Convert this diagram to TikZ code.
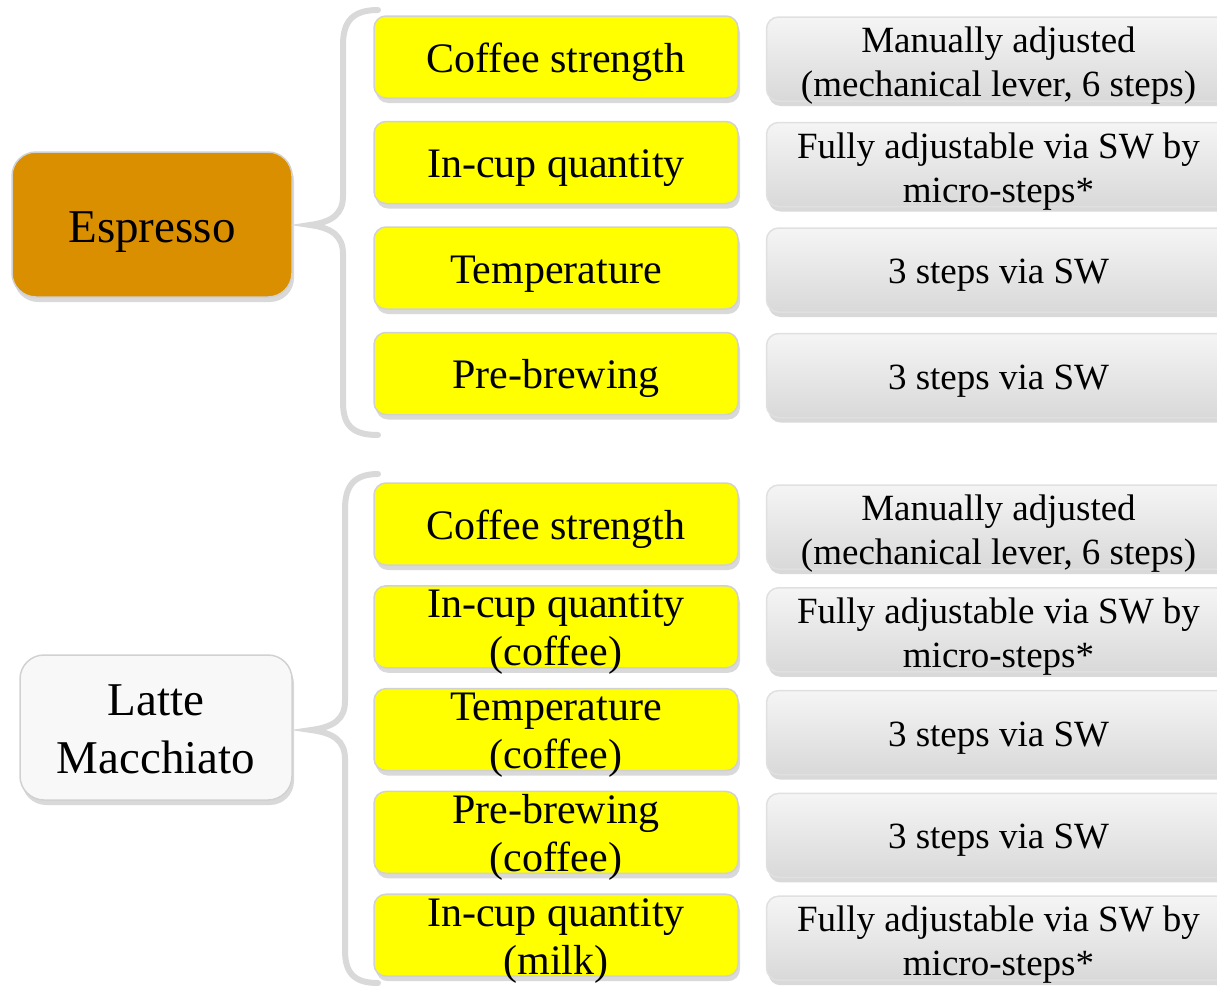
\documentclass[tikz,border=0pt]{standalone}
\usepackage{fontspec}
\setmainfont{Liberation Serif}
\usetikzlibrary{positioning, shadows}
\definecolor{espresso}{RGB}{217,143,0}
\definecolor{latte}{RGB}{248,248,248}
\definecolor{paramyellow}{RGB}{255,255,0}
\definecolor{bracegray}{RGB}{217,217,217}
\newcommand{\twolines}[3]{\raisebox{#1}{\begin{tabular}[t]{@{}c@{}}#2\\#3\end{tabular}}}
\tikzstyle{drink} = [rectangle, rounded corners=24pt, minimum height=145pt, text centered, text height=45pt, text depth=10pt, draw=black!18, line width=1.5pt, font=\fontsize{47}{58}\selectfont, drop shadow={shadow xshift=2pt, shadow yshift=-5pt, opacity=0.3}]
\tikzstyle{param} = [rectangle, rounded corners=12pt, minimum width=364pt, minimum height=82pt, inner sep=0pt, text centered, text height=40pt, text depth=10pt, draw=black!18, line width=1.5pt, fill=paramyellow, font=\fontsize{42}{48}\selectfont, drop shadow={shadow xshift=2pt, shadow yshift=-5pt, opacity=0.3}]
\tikzstyle{setting} = [rectangle, rounded corners=12pt, minimum width=464pt, minimum height=84pt, inner sep=0pt, text centered, text height=35pt, text depth=8pt, draw=black!12, line width=1.5pt, top color=gray!8, bottom color=gray!30, font=\fontsize{37}{44}\selectfont, drop shadow={shadow xshift=2pt, shadow yshift=-5pt, opacity=0.3}]
\tikzstyle{bracket} = [line width=6pt, draw=bracegray, line cap=round]

\begin{document}
\begin{tikzpicture}[x=1pt, y=-1pt, node distance=105.5pt]
    \useasboundingbox (0,0) rectangle (1217,988);

    % Espresso
    \node (esp) [drink, fill=espresso, minimum width=280pt] at (152,224.5) {Espresso};
    \node (e1) [param] at (556,57) {Coffee strength};
    \node (e2) [param, below of=e1] {In-cup quantity};
    \node (e3) [param, below of=e2] {Temperature};
    \node (e4) [param, below of=e3] {Pre-brewing};
    \node (es1) [setting, right=27pt of e1, yshift=-2pt] {\twolines{20pt}{Manually adjusted}{(mechanical lever, 6 steps)}};
    \node (es2) [setting, right=27pt of e2, yshift=-2pt] {\twolines{20pt}{Fully adjustable via SW by}{micro-steps*}};
    \node (es3) [setting, right=27pt of e3, yshift=-2pt] {3 steps via SW};
    \node (es4) [setting, right=27pt of e4, yshift=-2pt] {3 steps via SW};
    \draw [bracket] (378,10) .. controls (352,10) and (343,22) .. (343,45) -- (343,196)
        .. controls (343,214) and (332,222) .. (310,225)
        .. controls (332,228) and (343,236) .. (343,254) -- (343,402)
        .. controls (343,425) and (352,435) .. (378,435);

    % Latte Macchiato
    \begin{scope}[node distance=102.8pt]
    \node (lat) [drink, fill=latte, minimum width=272pt] at (156,727.5) {\twolines{30pt}{Latte}{Macchiato}};
    \node (l1) [param] at (556,524) {Coffee strength};
    \node (l2) [param, below of=l1] {\twolines{24pt}{In-cup quantity}{(coffee)}};
    \node (l3) [param, below of=l2] {\twolines{24pt}{Temperature}{(coffee)}};
    \node (l4) [param, below of=l3] {\twolines{24pt}{Pre-brewing}{(coffee)}};
    \node (l5) [param, below of=l4] {\twolines{24pt}{In-cup quantity}{(milk)}};
    \node (ls1) [setting, right=27pt of l1, yshift=-3pt] {\twolines{20pt}{Manually adjusted}{(mechanical lever, 6 steps)}};
    \node (ls2) [setting, right=27pt of l2, yshift=-3pt] {\twolines{20pt}{Fully adjustable via SW by}{micro-steps*}};
    \node (ls3) [setting, right=27pt of l3, yshift=-3pt] {3 steps via SW};
    \node (ls4) [setting, right=27pt of l4, yshift=-3pt] {3 steps via SW};
    \node (ls5) [setting, right=27pt of l5, yshift=-3pt] {\twolines{20pt}{Fully adjustable via SW by}{micro-steps*}};
    \end{scope}
    \draw [bracket] (378,474) .. controls (354,474) and (345,486) .. (345,509) -- (345,701)
        .. controls (345,719) and (334,727) .. (311,730)
        .. controls (334,733) and (345,741) .. (345,759) -- (345,950)
        .. controls (345,973) and (354,983) .. (378,983);
\end{tikzpicture}
\end{document}
